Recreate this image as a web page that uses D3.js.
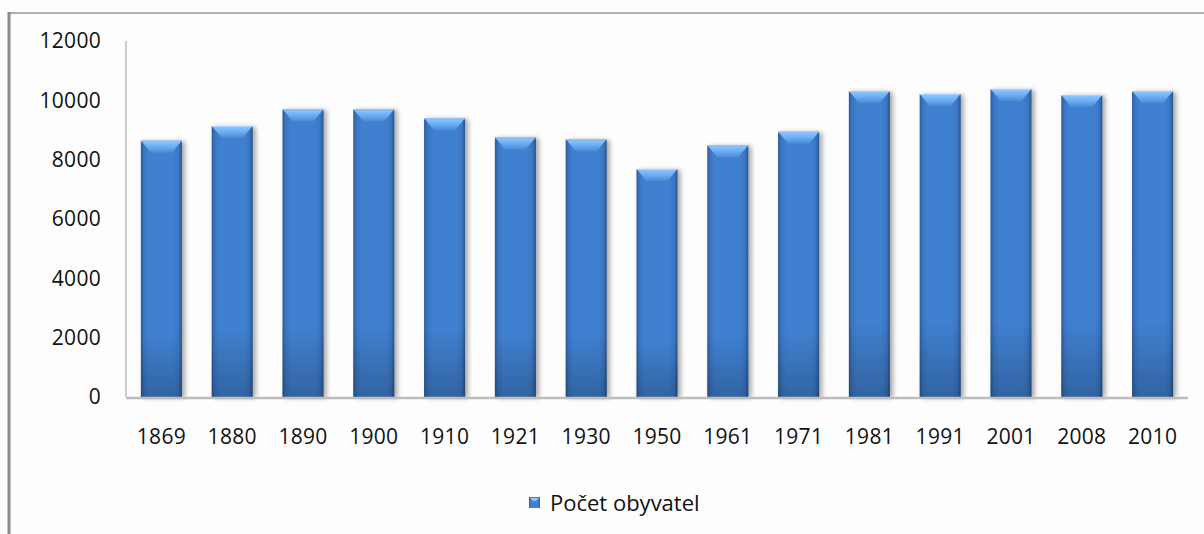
<!DOCTYPE html>
<html><head><meta charset="utf-8">
<script src="https://cdn.jsdelivr.net/npm/d3@7"></script>
<style>
html,body{margin:0;padding:0;background:#fff;}
svg{display:block;font-family:"Open Sans",sans-serif;}
</style></head>
<body>
<svg id="chart" width="1204" height="534"></svg>
<script>
const years = ["1869","1880","1890","1900","1910","1921","1930","1950","1961","1971","1981","1991","2001","2008","2010"];
const population = [8640,9135,9697,9697,9394,8753,8686,7685,8483,8942,10313,10212,10381,10178,10313];
const yTicks = [0,2000,4000,6000,8000,10000,12000];
const seriesName = "Počet obyvatel";

const svg = d3.select("#chart");
svg.append("rect").attr("width",1204).attr("height",534).attr("fill","#fdfdfd");
// chart border
svg.append("line").attr("x1",9).attr("x2",1204).attr("y1",13).attr("y2",13).attr("stroke","#b0b0b0").attr("stroke-width",2);
svg.append("line").attr("x1",9).attr("x2",9).attr("y1",12).attr("y2",534).attr("stroke","#8a8a8a").attr("stroke-width",3);

const x0 = 126, x1 = 1188, yBase = 397, yTop = 41;
const x = d3.scaleBand().domain(years).range([x0,x1]).paddingInner(0.42).paddingOuter(0.21);
const y = d3.scaleLinear().domain([0,12000]).range([yBase,yTop]);

const defs = svg.append("defs");
const hg = defs.append("linearGradient").attr("id","hg").attr("x1","0").attr("x2","1").attr("y1","0").attr("y2","0");
[[0,"#2c5c9a"],[0.08,"#3a76c2"],[0.2,"#4080d0"],[0.8,"#4080d0"],[0.92,"#3a76c2"],[1,"#27548e"]].forEach(s=>hg.append("stop").attr("offset",s[0]).attr("stop-color",s[1]));
const vg = defs.append("linearGradient").attr("id","vg").attr("x1","0").attr("x2","0").attr("y1","0").attr("y2","1");
[[0,"#000",0],[0.75,"#000",0],[1,"#000",0.22]].forEach(s=>vg.append("stop").attr("offset",s[0]).attr("stop-color",s[1]).attr("stop-opacity",s[2]));
const tg = defs.append("linearGradient").attr("id","tg").attr("x1","0").attr("x2","0").attr("y1","0").attr("y2","1");
[[0,"#8cc4ff"],[0.4,"#6fb0f5"],[1,"#4a8ad6"]].forEach(s=>tg.append("stop").attr("offset",s[0]).attr("stop-color",s[1]));
const sh = defs.append("filter").attr("id","sh").attr("x","-20%").attr("y","-10%").attr("width","150%").attr("height","120%");
sh.append("feGaussianBlur").attr("in","SourceAlpha").attr("stdDeviation",2.5).attr("result","b");
sh.append("feOffset").attr("in","b").attr("dx",3).attr("dy",1).attr("result","o");
sh.append("feComponentTransfer").attr("in","o").attr("result","o2").append("feFuncA").attr("type","linear").attr("slope",0.35);
const mg = sh.append("feMerge"); mg.append("feMergeNode").attr("in","o2"); mg.append("feMergeNode").attr("in","SourceGraphic");

// axes lines
svg.append("line").attr("x1",x0).attr("x2",x0).attr("y1",yTop).attr("y2",yBase).attr("stroke","#bdbdbd").attr("stroke-width",1.5);

const bars = svg.append("g").selectAll("g").data(years).join("g").attr("filter","url(#sh)");
bars.append("rect").attr("x",d=>x(d)).attr("y",(d,i)=>y(population[i])).attr("width",x.bandwidth()).attr("height",(d,i)=>yBase-y(population[i])).attr("fill","url(#hg)");
bars.append("rect").attr("x",d=>x(d)).attr("y",(d,i)=>y(population[i])).attr("width",x.bandwidth()).attr("height",(d,i)=>yBase-y(population[i])).attr("fill","url(#vg)");
bars.append("path").attr("d",(d,i)=>{
  const bx=x(d), by=y(population[i]), w=x.bandwidth(), h=12, ins=10;
  return `M${bx+1},${by+1}L${bx+w-1},${by+1}L${bx+w-ins},${by+h}L${bx+ins},${by+h}Z`;
}).attr("fill","url(#tg)");
bars.append("line").attr("x1",d=>x(d)).attr("x2",d=>x(d)+x.bandwidth()).attr("y1",(d,i)=>y(population[i])+0.5).attr("y2",(d,i)=>y(population[i])+0.5).attr("stroke","#a8d2ff").attr("stroke-width",1);

svg.append("line").attr("x1",x0).attr("x2",x1).attr("y1",yBase+1).attr("y2",yBase+1).attr("stroke","#bdbdbd").attr("stroke-width",2.5);

// y axis labels
const yAxis = d3.axisLeft(y).tickValues(yTicks).tickSize(0).tickPadding(0).tickFormat(d3.format("d"));
const ya = svg.append("g").attr("transform","translate(101,0)").call(yAxis);
ya.select(".domain").remove();
ya.selectAll("text").attr("font-size",21).attr("fill","#111").attr("font-family","Open Sans").attr("letter-spacing","0.3px");

const xAxis = d3.axisBottom(x).tickSize(0).tickPadding(0);
const xa = svg.append("g").attr("transform","translate(0,437)").call(xAxis);
xa.select(".domain").remove();
xa.selectAll("text").attr("font-size",21).attr("fill","#111").attr("dy","0.35em").attr("font-family","Open Sans").attr("letter-spacing","0.3px");

// legend
const lg = svg.append("g");
lg.append("rect").attr("x",529).attr("y",497).attr("width",11).attr("height",11).attr("fill","url(#hg)");
lg.append("path").attr("d","M530,498L539,498L536,501L533,501Z").attr("fill","#8cc4ff");
lg.append("text").attr("x",550).attr("y",503).attr("dy","0.35em").attr("font-size",22).attr("fill","#111").text(seriesName);
</script>
</body></html>
